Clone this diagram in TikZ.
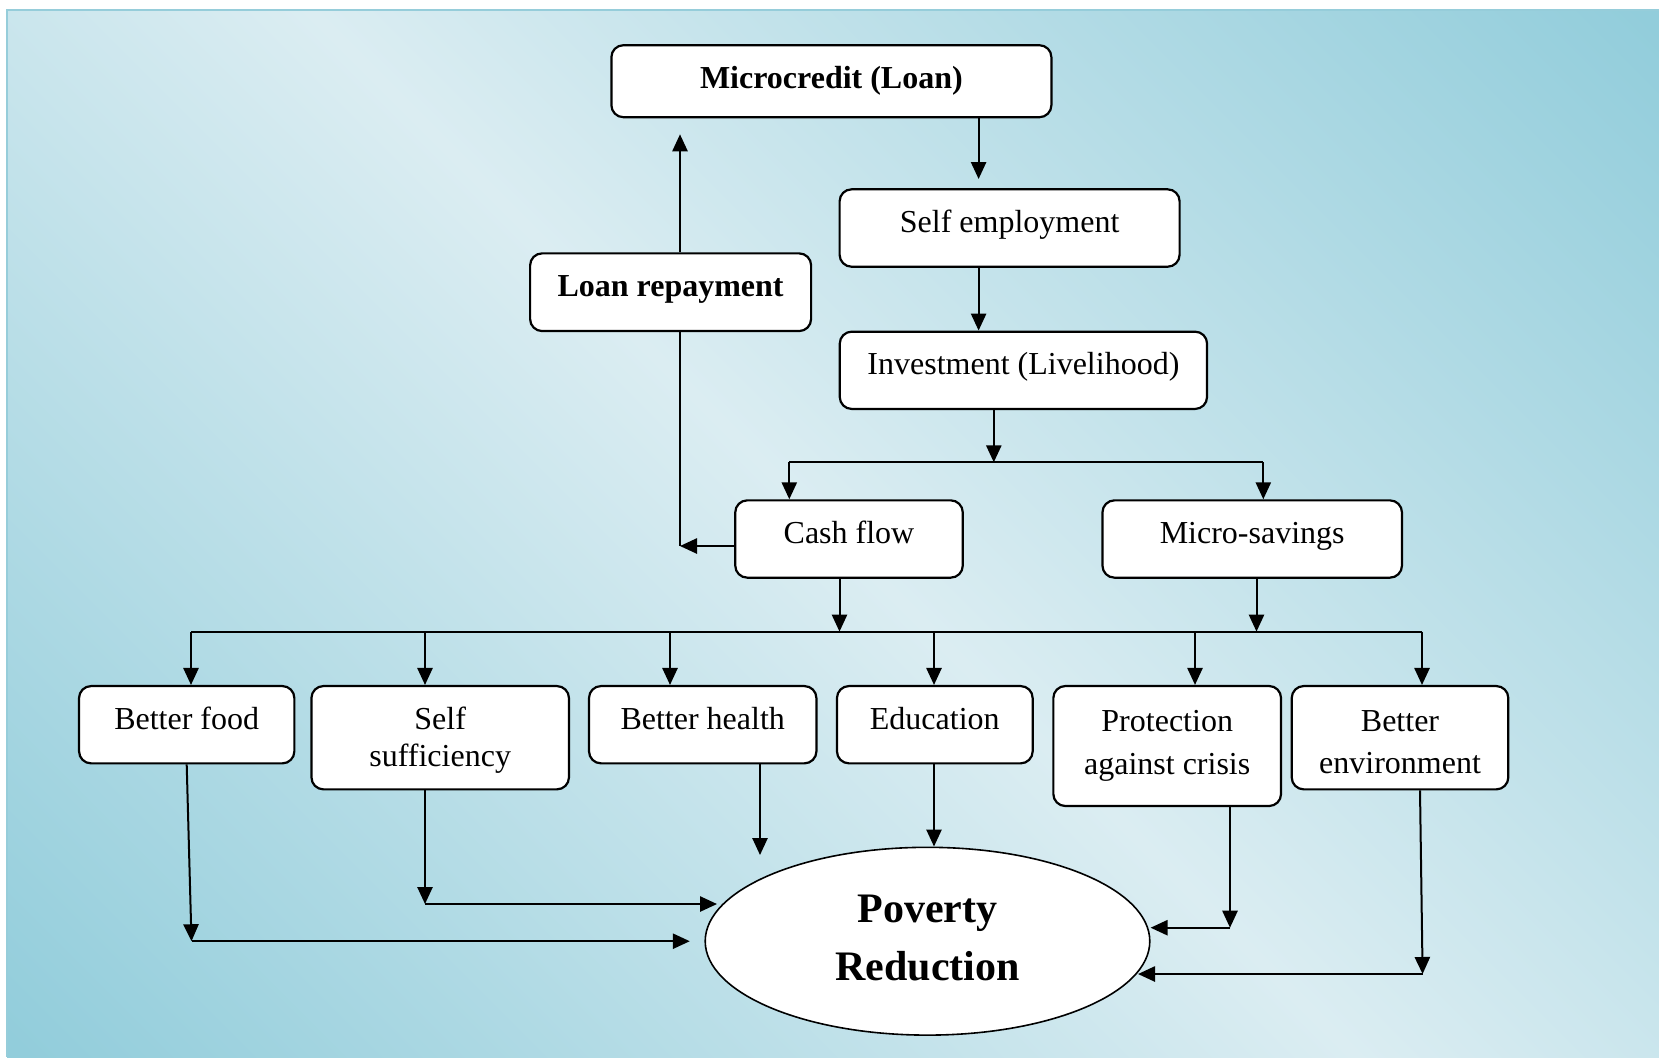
\documentclass[tikz,border=0pt]{standalone}
\usepackage{fontspec}
\setmainfont{Liberation Serif}
\usetikzlibrary{arrows.meta,shapes.geometric}

\definecolor{bglight}{RGB}{219,237,242}
\definecolor{bgdark}{RGB}{146,205,219}
\definecolor{bgedge}{RGB}{150,205,218}

% diagonal band: light along one diagonal, darker towards the other corners
\pgfdeclareverticalshading{bgshade}{100bp}{color(0bp)=(bgdark); color(15bp)=(bgdark); color(50bp)=(bglight); color(85bp)=(bgdark); color(100bp)=(bgdark)}

% two centred lines whose baseline is that of the first line
\newcommand\twoline[3]{\vtop{\baselineskip=#1\relax\halign{\hfil##\hfil\cr#2\cr#3\cr}}}

\tikzset{
  box/.style={draw, line width=1.1pt, rounded corners=6pt, fill=white, inner sep=0pt},
  sz/.style 2 args={minimum width=#1*0.5pt, minimum height=#2*0.5pt},
  lbl/.style={anchor=base, inner sep=0pt, font=\fontsize{16pt}{19pt}\selectfont},
  blbl/.style={lbl, font=\fontsize{16pt}{19pt}\selectfont\bfseries},
  arr/.style={line width=1pt, -{Triangle[length=8.5pt,width=7.6pt]}},
  ln/.style={line width=1pt},
}

\begin{document}
\begin{tikzpicture}[x=0.5pt, y=-0.5pt]
\useasboundingbox (0,0) rectangle (1659,1057);

% background panel
\shade[shading=bgshade, shading angle=-45] (7,10) rectangle (1659,1057);
\draw[bgedge, line width=0.8pt] (1659,10) -- (7,10) -- (7,1057);

% boxes
\node[box, sz={440}{72}]      (micro)   at (831.4,81.2)  {};
\node[box, sz={340}{77.4}]    (selfemp) at (1009.6,228)  {};
\node[box, sz={367.3}{77.3}]  (invest)  at (1023.4,370.3) {};
\node[box, sz={281}{77.7}]    (repay)   at (670.6,292.2) {};
\node[box, sz={227.5}{77.3}]  (cash)    at (849,539)     {};
\node[box, sz={299.5}{77.3}]  (saving)  at (1252.2,539)  {};
\node[box, sz={215.3}{77.3}]  (food)    at (186.7,724.7) {};
\node[box, sz={257.5}{103.3}] (suff)    at (440.2,737.7) {};
\node[box, sz={227.4}{77.3}]  (health)  at (702.7,724.7) {};
\node[box, sz={195.7}{77.3}]  (edu)     at (934.8,724.7) {};
\node[box, sz={227.7}{120}]   (prot)    at (1167.2,746)  {};
\node[box, sz={216.6}{103.3}] (env)     at (1400,737.7)  {};
\node[ellipse, draw, line width=0.8pt, fill=white, inner sep=0pt, sz={444.6}{187.8}] (pov) at (927.5,941.2) {};

% labels
\node[blbl] (micro-t)   at (831.4,88.3)   {Microcredit (Loan)};
\node[lbl]  (selfemp-t) at (1009.6,232.3) {Self employment};
\node[lbl]  (invest-t)  at (1023.4,374.7) {Investment (Livelihood)};
\node[blbl] (repay-t)   at (670.6,296.3)  {Loan repayment};
\node[lbl]  (cash-t)    at (849,543.4)    {Cash flow};
\node[lbl]  (saving-t)  at (1252.2,543.4) {Micro-savings};
\node[lbl]  (food-t)    at (186.7,729.3)  {Better food};
\node[lbl]  (suff-t)    at (440.2,729.3)  {\twoline{18.8pt}{Self}{sufficiency}};
\node[lbl]  (health-t)  at (702.7,729.3)  {Better health};
\node[lbl]  (edu-t)     at (934.8,729.3)  {Education};
\node[lbl]  (prot-t)    at (1167.2,731.7) {\twoline{21.2pt}{Protection}{against crisis}};
\node[lbl]  (env-t)     at (1400,731.7)   {\twoline{21pt}{Better}{environment}};
\node[lbl, font=\fontsize{21pt}{25pt}\selectfont\bfseries] (pov-t) at (927.5,922.7) {\twoline{28.65pt}{Poverty}{Reduction}};

% helper coordinates for connector positions
\coordinate (xa) at (978.6,0);
\coordinate (split) at (993.8,462.3);
\coordinate (cx) at (789.3,0);
\coordinate (sx) at (1263.3,0);
\coordinate (rx) at (680,0);
\coordinate (rcorner) at (680,546);
\coordinate (bus) at (0,631.6);
\coordinate (c1) at (839.5,0);
\coordinate (c2) at (1256.5,0);
\coordinate (b1) at (191,0);
\coordinate (b2) at (425,0);
\coordinate (b3) at (670,0);
\coordinate (b4) at (934,0);
\coordinate (b5) at (1195,0);
\coordinate (b6) at (1422,0);
\coordinate (fc) at (191.5,941.2);
\coordinate (sc) at (425,904);
\coordinate (stip) at (717,904);
\coordinate (htip) at (760,855);
\coordinate (pc) at (1230,927.7);
\coordinate (ex2) at (1420,0);
\coordinate (ec) at (1422.6,974);
\coordinate (etip) at (1138,974);

% upper chain
\draw[arr, shorten >=4.6pt] (micro.south -| xa) -- (selfemp.north -| xa);
\draw[arr] (selfemp.south -| xa) -- (invest.north -| xa);
\draw[arr] (invest.south -| split) -- (split);
\draw[ln] (split -| cx) -- (split -| sx);
\draw[arr] (split -| cx) -- (cash.north -| cx);
\draw[arr] (split -| sx) -- (saving.north -| sx);

% repayment loop
\draw[arr] (cash.west |- rcorner) -- (rcorner);
\draw[ln] (repay.south -| rx) -- (rcorner);
\draw[arr, shorten >=8pt] (repay.north -| rx) -- (micro.south -| rx);

% distribution bus
\draw[arr] (cash.south -| c1) -- (bus -| c1);
\draw[arr] (saving.south -| c2) -- (bus -| c2);
\draw[ln] (bus -| b1) -- (bus -| b6);
\draw[arr] (bus -| b1) -- (food.north -| b1);
\draw[arr] (bus -| b2) -- (suff.north -| b2);
\draw[arr] (bus -| b3) -- (health.north -| b3);
\draw[arr] (bus -| b4) -- (edu.north -| b4);
\draw[arr] (bus -| b5) -- (prot.north -| b5);
\draw[arr] (bus -| b6) -- (env.north -| b6);

% outcomes into poverty reduction
\draw[arr] (food.south) -- (fc);
\draw[arr, shorten >=7.3pt] (fc) -- (pov.west);
\draw[arr] (suff.south -| sc) -- (sc);
\draw[arr] (sc) -- (stip);
\draw[arr] (health.south -| htip) -- (htip);
\draw[arr] (edu.south -| b4) -- (b4 |- pov.north);
\draw[arr] (prot.south -| pc) -- (pc);
\draw[arr] (pc) -- (pov.east |- pc);
\draw[arr] (env.south -| ex2) -- (ec);
\draw[arr] (ec) -- (etip);
\end{tikzpicture}
\end{document}
